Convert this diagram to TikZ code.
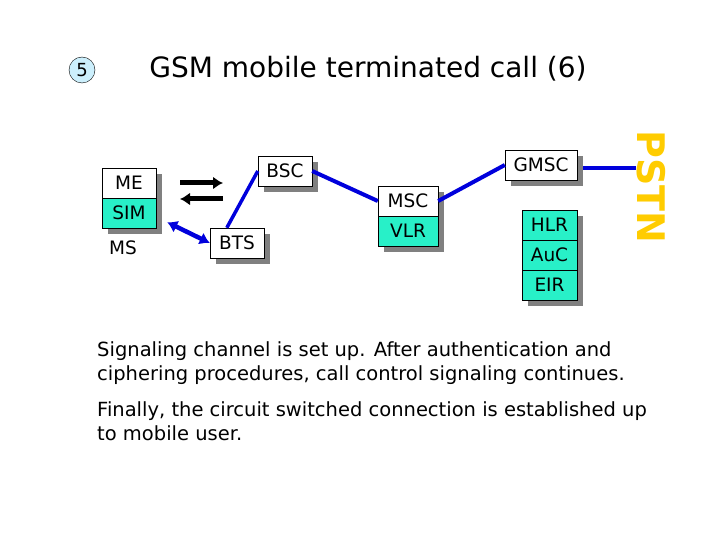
\documentclass[tikz,border=0pt]{standalone}
\usepackage{fontspec}
\setmainfont{DejaVu Sans}
\usetikzlibrary{arrows.meta}
\definecolor{cy}{RGB}{40,240,200}
\definecolor{pst}{RGB}{255,204,0}
\definecolor{bl}{RGB}{0,0,220}
\tikzset{
 box/.style={draw=black,fill=white,minimum height=30pt,inner sep=0pt,font=\fontsize{18.5}{18.5}\selectfont},
 cbox/.style={box,fill=cy},
 shd/.style={fill=gray},
 link/.style={bl,line width=4pt},
 tip/.style={-{Latex[length=10pt,width=13pt]}},
}
\begin{document}
\begin{tikzpicture}[x=1pt,y=-1pt]
\useasboundingbox (0,0) rectangle (720,540);
% shadows
\fill[shd] (108,174) rectangle (162,234);
\fill[shd] (216,234) rectangle (270,264);
\fill[shd] (264,162) rectangle (318,192);
\fill[shd] (384,192) rectangle (444,252);
\fill[shd] (511,156) rectangle (583,186);
\fill[shd] (528,216) rectangle (583,306);
% boxes
\node[box,minimum width=54pt] (me) at (129,183) {ME};
\node[cbox,minimum width=54pt] (sim) at (129,213) {SIM};
\node[font=\fontsize{18.5}{18.5}\selectfont] (ms) at (123,248) {MS};
\node[box,minimum width=54pt] (bts) at (237,243) {BTS};
\node[box,minimum width=54pt] (bsc) at (285,171) {BSC};
\node[box,minimum width=60pt] (msc) at (408,201) {MSC};
\node[cbox,minimum width=60pt] (vlr) at (408,231) {VLR};
\node[box,minimum width=72pt] (gmsc) at (541,165) {GMSC};
\node[cbox,minimum width=55pt] (hlr) at (549.5,225) {HLR};
\node[cbox,minimum width=55pt] (auc) at (549.5,255) {AuC};
\node[cbox,minimum width=55pt] (eir) at (549.5,285) {EIR};
\node[rotate=-90,text=pst,font=\fontsize{38}{38}\selectfont\bfseries,inner sep=0pt] (pstn) at (651,187) {PSTN};
% links
\draw[bl,line width=3.5pt] (bts.north west)++(17,0) coordinate (b1) -- (bsc.west);
\draw[link] (bsc.east) -- (msc.west);
\draw[link] (msc.east) -- (gmsc.west);
\draw[link] (gmsc.east)++(6,3) coordinate (g1) -- (pstn.south |- g1);
% arrows
\coordinate (a1) at (180,183); \coordinate (a2) at (223,183);
\coordinate (a3) at (223,199); \coordinate (a4) at (180,199);
\draw[line width=5pt,tip] (a1) -- (a2);
\draw[line width=5pt,tip] (a3) -- (a4);
\draw[bl,line width=4.5pt,{Latex[length=10pt,width=13pt]}-{Latex[length=10pt,width=13pt]}] (sim.south east)++(11,-6) -- (bts.west);
% title
\node[circle,draw,fill=cyan!20,minimum size=26pt,inner sep=0pt,font=\fontsize{18}{18}\selectfont] (num) at (82,70) {5};
\node[font=\fontsize{28}{28}\selectfont] (title) at (368,69) {GSM mobile terminated call (6)};
\node[anchor=north west,align=left,font=\fontsize{19.5}{24.5}\selectfont,inner sep=0pt] (t1) at (97,341) {Signaling channel is set up. After authentication and\\ciphering procedures, call control signaling continues.};
\node[anchor=north west,align=left,font=\fontsize{19.5}{24.5}\selectfont,inner sep=0pt] (t2) at (97,401) {Finally, the circuit switched connection is established up\\to mobile user.};
\end{tikzpicture}
\end{document}
